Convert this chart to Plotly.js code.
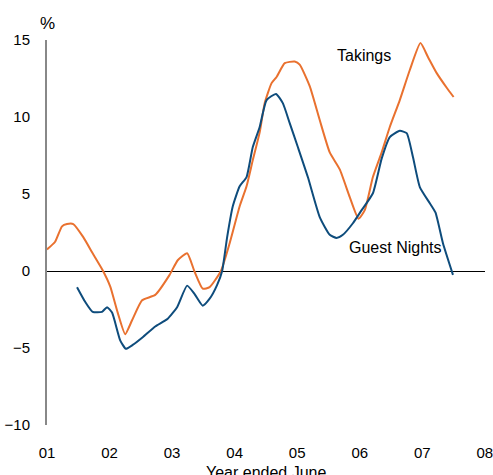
<!DOCTYPE html>
<html>
<head>
<meta charset="utf-8">
<script src="https://cdn.plot.ly/plotly-3.0.1.min.js"></script>
<style>html,body{margin:0;padding:0;background:#fff;}#chart{width:493px;height:475px;}</style>
</head>
<body>
<div id="chart"></div>
<script>
var takingsX = [2001.00,2001.13,2001.24,2001.32,2001.42,2001.58,2001.73,2001.89,2002.01,2002.13,2002.25,2002.36,2002.52,2002.73,2002.96,2003.09,2003.24,2003.36,2003.49,2003.60,2003.78,2003.92,2004.08,2004.19,2004.29,2004.40,2004.48,2004.59,2004.67,2004.80,2004.96,2005.04,2005.20,2005.36,2005.52,2005.68,2005.84,2005.98,2006.08,2006.21,2006.35,2006.48,2006.64,2006.80,2006.97,2007.09,2007.23,2007.39,2007.50];
var takingsY = [1.4,1.9,2.9,3.05,3.05,2.2,1.15,0.05,-1.0,-2.7,-4.1,-3.2,-1.9,-1.55,-0.25,0.7,1.15,-0.05,-1.15,-1.05,0,1.8,4.2,5.5,7.2,9.0,10.9,12.2,12.6,13.5,13.6,13.4,12.0,9.8,7.7,6.6,4.8,3.4,3.95,6.1,7.7,9.35,11.1,13.05,14.8,13.9,12.85,11.9,11.3];

var guestX = [2001.48,2001.61,2001.73,2001.88,2001.96,2002.04,2002.17,2002.26,2002.37,2002.53,2002.73,2002.93,2003.08,2003.24,2003.36,2003.49,2003.60,2003.72,2003.80,2003.88,2003.97,2004.08,2004.19,2004.29,2004.40,2004.51,2004.66,2004.77,2004.88,2005.01,2005.17,2005.36,2005.52,2005.63,2005.73,2005.89,2006.03,2006.21,2006.35,2006.48,2006.64,2006.75,2006.85,2006.96,2007.12,2007.21,2007.33,2007.49];
var guestY = [-1.05,-2.0,-2.65,-2.65,-2.35,-2.7,-4.5,-5.05,-4.8,-4.3,-3.6,-3.1,-2.35,-0.95,-1.5,-2.25,-1.8,-0.9,0,2.2,4.2,5.5,6.1,8.05,9.35,11.1,11.5,10.9,9.6,8.05,6.1,3.5,2.35,2.15,2.35,3.1,3.95,5.05,7.3,8.7,9.1,8.95,7.4,5.45,4.4,3.8,1.8,-0.25];

var tickVals = [2001,2002,2003,2004,2005,2006,2007,2008];
var tickText = ['01','02','03','04','05','06','07','08'];
var yTicks = [-10,-5,0,5,10,15];
var xTitle = 'Year ended June';

var FONT = 'Liberation Sans, Arial, sans-serif';

var traces = [
  {x: takingsX, y: takingsY, type: 'scatter', mode: 'lines', name: 'Takings',
   line: {color: '#E9712F', width: 2, shape: 'spline', smoothing: 0.5}, hoverinfo: 'skip'},
  {x: guestX, y: guestY, type: 'scatter', mode: 'lines', name: 'Guest Nights',
   line: {color: '#0E4C7C', width: 2, shape: 'spline', smoothing: 0.5}, hoverinfo: 'skip'}
];

var layout = {
  width: 493, height: 475,
  margin: {l: 47, r: 8, t: 40, b: 50, pad: 0},
  paper_bgcolor: '#fff', plot_bgcolor: '#fff',
  showlegend: false,
  font: {family: FONT, size: 15, color: '#000'},
  xaxis: {
    range: [2001, 2008.002], tickvals: tickVals, ticktext: tickText,
    showgrid: false, zeroline: false, showline: false, ticks: '',
    ticklabelstandoff: 17, tickfont: {size: 15}, automargin: false,
    ticklabeloverflow: 'allow'
  },
  yaxis: {
    range: [-10, 15], tickvals: yTicks, showgrid: false,
    zeroline: true, zerolinecolor: '#000', zerolinewidth: 1,
    showline: true, linecolor: '#888', linewidth: 2, ticks: '',
    ticklabelstandoff: 12, tickfont: {size: 15}
  },
  annotations: [
    {xref: 'paper', yref: 'paper', x: 0, y: 1, xanchor: 'center', yanchor: 'bottom', yshift: 5,
     text: '%', showarrow: false, font: {size: 17}},
    {xref: 'x', yref: 'y', x: 2006.06, y: 14, xanchor: 'center', yanchor: 'middle',
     text: 'Takings', showarrow: false, font: {size: 16}},
    {xref: 'x', yref: 'y', x: 2006.56, y: 1.55, xanchor: 'center', yanchor: 'middle',
     text: 'Guest Nights', showarrow: false, font: {size: 16}},
    {xref: 'paper', yref: 'paper', x: 0.5, y: 0, xanchor: 'center', yanchor: 'middle', yshift: -47,
     text: xTitle, showarrow: false, font: {size: 16}}
  ]
};

Plotly.newPlot('chart', traces, layout, {staticPlot: true, displayModeBar: false});
</script>
</body>
</html>
